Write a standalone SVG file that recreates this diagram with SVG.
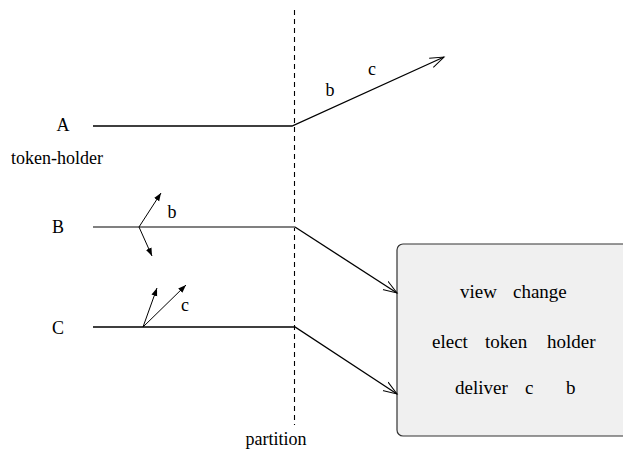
<svg xmlns="http://www.w3.org/2000/svg" width="623" height="454" viewBox="0 0 623 454">
<style>
text{font-family:"Liberation Serif","Times New Roman",serif;font-size:18px;fill:#000}
.bx{font-size:19px}
.ln{fill:none;stroke:#000;stroke-width:1.3}
.gr{fill:none;stroke:#808080;stroke-width:1.8}
.dash{fill:none;stroke:#000;stroke-width:1.1;stroke-dasharray:5,4}
.open{marker-end:url(#open)}
.small{marker-end:url(#small);stroke-width:1}
</style>
<defs>
<marker id="open" markerWidth="16" markerHeight="12" refX="14" refY="6" orient="auto" markerUnits="userSpaceOnUse">
<path d="M0,1 L14,6 L0,11" fill="none" stroke="#000" stroke-width="1"/>
</marker>
<marker id="small" markerWidth="10" markerHeight="8" refX="8" refY="4" orient="auto" markerUnits="userSpaceOnUse">
<path d="M0,1 L8,4 L0,7 Z" fill="#000"/>
</marker>
</defs>
<g id="partition">
<line class="dash" x1="294.5" y1="10" x2="294.5" y2="425"/>
<text x="276" y="445" text-anchor="middle">partition</text>
</g>
<g id="box">
<rect x="397" y="244" width="250" height="192" rx="6" fill="#f0f0f0" stroke="#333" stroke-width="1.2"/>
<text class="bx" y="298"><tspan x="460">view</tspan><tspan x="513">change</tspan></text>
<text class="bx" y="348"><tspan x="432">elect</tspan><tspan x="485">token</tspan><tspan x="547">holder</tspan></text>
<text class="bx" y="394"><tspan x="455">deliver</tspan><tspan x="525">c</tspan><tspan x="566">b</tspan></text>
</g>
<g id="nodeA">
<text x="63" y="131" text-anchor="middle">A</text>
<text x="57" y="164" text-anchor="middle">token-holder</text>
</g>
<g id="nodeB">
<text x="58" y="233" text-anchor="middle">B</text>
</g>
<g id="nodeC">
<text x="58" y="334" text-anchor="middle">C</text>
</g>
<g id="connectors">
<polyline class="ln open" points="93,126 292,126 444,57"/>
<text x="330" y="96" text-anchor="middle">b</text>
<text x="372" y="75" text-anchor="middle">c</text>
<line class="gr" x1="93" y1="227" x2="295" y2="227"/>
<line class="ln open" x1="295" y1="227" x2="397" y2="293"/>
<line class="ln small" x1="139" y1="227" x2="161" y2="193"/>
<line class="ln small" x1="139" y1="227" x2="152" y2="256"/>
<text x="172" y="218" text-anchor="middle">b</text>
<polyline class="ln open" points="93,327 295,327 397,394"/>
<line class="ln small" x1="143" y1="327" x2="157" y2="288"/>
<line class="ln small" x1="143" y1="327" x2="186" y2="285"/>
<text x="185" y="311" text-anchor="middle">c</text>
</g>
</svg>
